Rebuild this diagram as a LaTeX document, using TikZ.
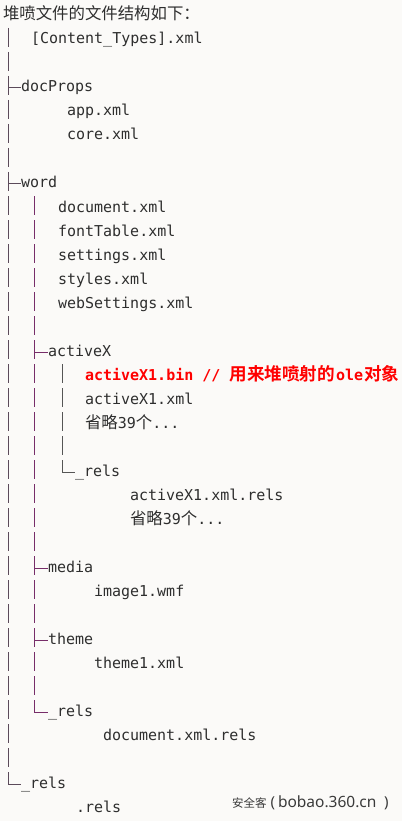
\documentclass[tikz,border=0pt]{standalone}
\usepackage{fontspec}
\setmonofont{DejaVu Sans Mono}
\newfontfamily\cjk[BoldFont={Noto Sans CJK SC Bold}]{Noto Sans CJK SC}
\newfontfamily\wmlatin{Noto Sans}
\definecolor{bgc}{HTML}{FBFAF8}
\definecolor{txtc}{HTML}{2E2E2E}
\definecolor{redc}{HTML}{FF0000}
\definecolor{lineA}{HTML}{5B4A5A}
\definecolor{lineB}{HTML}{772D69}
\definecolor{lineC}{HTML}{555555}
\definecolor{wmc}{HTML}{3A3A3A}
\newcommand{\zh}[1]{{\cjk\fontsize{16.4}{18}\selectfont #1}}
\newcommand{\zhb}[1]{{\cjk\bfseries\fontsize{17.6}{18}\selectfont #1}}
\begin{document}
\begin{tikzpicture}[x=1pt,y=-1pt,
  every node/.style={inner sep=0pt,outer sep=0pt,anchor=base west},
  txt/.style={font=\fontsize{15}{18}\selectfont\ttfamily,text=txtc},
  redtxt/.style={font=\fontsize{15}{18}\selectfont\ttfamily\bfseries,text=redc},
  ttl/.style={font=\cjk\fontsize{16.4}{18}\selectfont,text=txtc},
  wm/.style={text=wmc},
  treeA/.style={draw=lineA,line width=1pt},
  treeB/.style={draw=lineB,line width=1pt},
  treeC/.style={draw=lineC,line width=1pt}]
\useasboundingbox (0,0) rectangle (402,821);
\fill[bgc] (0,0) rectangle (402,821);
% tree lines (box drawing glyphs), b = 20 + 24 i
% column 1 (x=8)
\foreach \i in {1,...,31}{
  \pgfmathsetmacro{\b}{20+24*\i}
  \draw[treeA] (8,\b-16) -- (8,\b+3);
}
\foreach \i in {3,7}{
  \pgfmathsetmacro{\b}{20+24*\i}
  \draw[treeA] (8,\b-4) -- (20.5,\b-4);
}
\draw[treeA] (8,20+24*32-16) -- (8,20+24*32-4) -- (20.5,20+24*32-4);
% column 2 (x=34)
\foreach \i in {8,...,28}{
  \pgfmathsetmacro{\b}{20+24*\i}
  \draw[treeB] (34,\b-16) -- (34,\b+3);
}
\foreach \i in {14,23,26}{
  \pgfmathsetmacro{\b}{20+24*\i}
  \draw[treeB] (34,\b-4) -- (47.5,\b-4);
}
\draw[treeB] (34,20+24*29-16) -- (34,20+24*29-4) -- (47.5,20+24*29-4);
% column 3 (x=62)
\foreach \i in {15,...,18}{
  \pgfmathsetmacro{\b}{20+24*\i}
  \draw[treeC] (62,\b-16) -- (62,\b+3);
}
\draw[treeC] (62,20+24*19-16) -- (62,20+24*19-4) -- (74.5,20+24*19-4);
% texts
\node[ttl] (title) at (3,20) {堆喷文件的文件结构如下：};
\node[txt] (ct) at (31,44) {[Content\_Types].xml};
\node[txt] (docprops) at (21,92) {docProps};
\node[txt] (app) at (67,116) {app.xml};
\node[txt] (core) at (67,140) {core.xml};
\node[txt] (word) at (21,188) {word};
\node[txt] (docxml) at (58,212) {document.xml};
\node[txt] (font) at (58,236) {fontTable.xml};
\node[txt] (settings) at (58,260) {settings.xml};
\node[txt] (styles) at (58,284) {styles.xml};
\node[txt] (websettings) at (58,308) {webSettings.xml};
\node[txt] (activex) at (48,356) {activeX};
\node[redtxt] (bin) at (85,380) {activeX1.bin // \zhb{用来堆喷射的}\hspace{1pt}ole\hspace{1pt}\zhb{对象}};
\node[txt] (axml) at (85,404) {activeX1.xml};
\node[txt] (omit1) at (85,428) {\zh{省略}39\zh{个}...};
\node[txt] (rels3) at (75,476) {\_rels};
\node[txt] (axrels) at (130,500) {activeX1.xml.rels};
\node[txt] (omit2) at (130,524) {\zh{省略}39\zh{个}...};
\node[txt] (media) at (48,572) {media};
\node[txt] (image) at (94,596) {image1.wmf};
\node[txt] (theme) at (48,644) {theme};
\node[txt] (theme1) at (94,668) {theme1.xml};
\node[txt] (rels2) at (48,716) {\_rels};
\node[txt] (docrels) at (103,740) {document.xml.rels};
\node[txt] (rels1) at (21,788) {\_rels};
\node[txt] (rels) at (76,812) {.rels};
% watermark
\node[wm,font=\cjk\fontsize{11.5}{13}\selectfont] (wm1) at (232,807) {安全客};
\node[wm,font=\wmlatin\fontsize{15}{16}\selectfont] (wm2) at (270.5,807) {(};
\node[wm,font=\wmlatin\fontsize{15.5}{16}\selectfont] (wm3) at (278,807) {bobao.360.cn};
\node[wm,font=\wmlatin\fontsize{15}{16}\selectfont] (wm4) at (384,807) {)};
\end{tikzpicture}
\end{document}
